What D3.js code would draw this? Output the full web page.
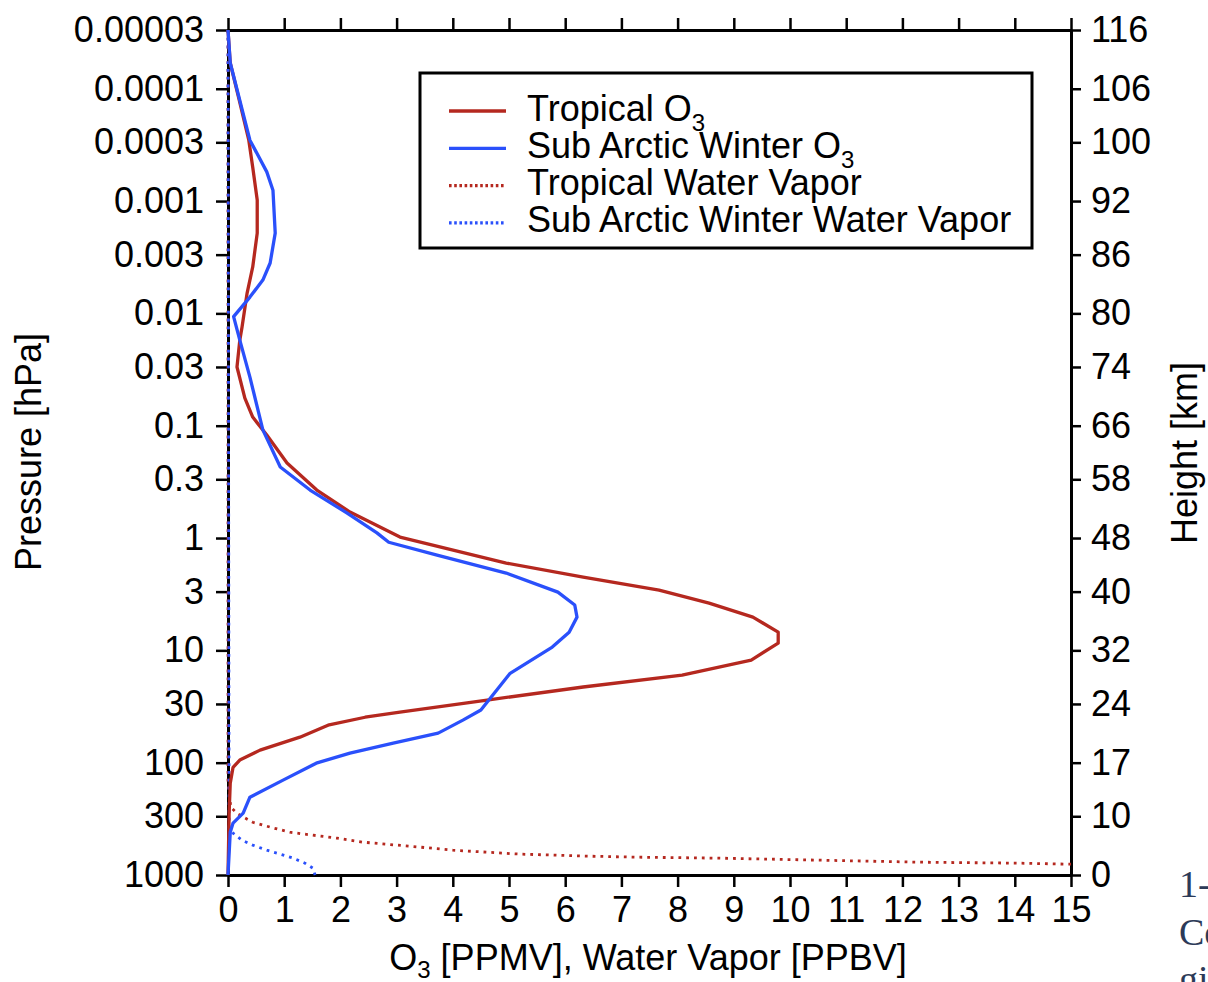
<!DOCTYPE html>
<html>
<head>
<meta charset="utf-8">
<script src="https://cdn.jsdelivr.net/npm/d3@7/dist/d3.min.js"></script>
<style>
  html, body { margin: 0; padding: 0; background: #fff; }
  svg { display: block; }
  text { font-family: "Liberation Sans", Arial, Helvetica, sans-serif; fill: #000; }
</style>
</head>
<body>
<svg id="chart" width="1208" height="982"></svg>
<script>
// Pressure levels (hPa) and mixing ratios for each profile
const tropicalO3Pressure = [3e-5, 5.9e-5, 1.26e-4, 2.87e-4, 5.0e-4, 9.8e-4, 1.93e-3, 3.86e-3, 6.6e-3, 0.0132, 0.0173, 0.030, 0.0568, 0.0838, 0.121, 0.215, 0.374, 0.587, 0.98, 1.67, 2.23, 2.91, 3.80, 5.06, 6.89, 8.63, 12.2, 16.6, 21.2, 27.7, 35.5, 39.4, 46, 59.3, 77.3, 94.8, 110, 152, 281, 1000];
const tropicalO3Value    = [0.0, 0.04, 0.20, 0.37, 0.44, 0.52, 0.52, 0.44, 0.34, 0.25, 0.21, 0.16, 0.30, 0.44, 0.69, 1.05, 1.58, 2.17, 3.06, 4.95, 6.32, 7.67, 8.56, 9.34, 9.79, 9.79, 9.31, 8.08, 6.32, 4.61, 3.06, 2.44, 1.80, 1.28, 0.57, 0.21, 0.09, 0.04, 0.02, 0.0];

const arcticO3Pressure = [3e-5, 5.9e-5, 2.87e-4, 5.5e-4, 8.0e-4, 1.93e-3, 3.56e-3, 5.05e-3, 7.16e-3, 0.0107, 0.0173, 0.0369, 0.109, 0.233, 0.374, 0.60, 0.90, 1.09, 1.42, 2.05, 3.03, 3.95, 5.06, 6.89, 9.35, 16.0, 34.0, 41.8, 54.6, 67.0, 82.2, 101, 143, 203, 281, 345, 416, 1000];
const arcticO3Value    = [0.0, 0.04, 0.39, 0.69, 0.80, 0.84, 0.75, 0.62, 0.39, 0.10, 0.21, 0.39, 0.62, 0.93, 1.46, 2.12, 2.65, 2.86, 3.72, 4.95, 5.87, 6.17, 6.21, 6.07, 5.77, 5.02, 4.50, 4.18, 3.74, 2.94, 2.17, 1.57, 0.98, 0.39, 0.27, 0.09, 0.04, 0.0];

const tropicalH2OPressure = [3e-5, 150, 250, 287, 339, 375, 416, 442, 470, 510, 565, 601, 627, 652, 665, 679, 694, 708, 738, 769, 785, 801, 1000];
const tropicalH2OValue    = [0, 0, 0.05, 0.18, 0.44, 0.75, 1.10, 1.51, 1.94, 2.40, 3.42, 4.00, 4.61, 5.20, 5.78, 6.39, 7.28, 8.75, 10.53, 12.31, 14.09, 14.98, 26];

const arcticH2OPressure = [3e-5, 380, 424, 490, 542, 601, 652, 708, 785, 869, 1000];
const arcticH2OValue    = [0, 0.02, 0.09, 0.25, 0.44, 0.69, 0.93, 1.16, 1.37, 1.51, 1.55];

// Axis ticks
const xTicks = d3.range(0, 16);
const pressureTicks = [0.00003, 0.0001, 0.0003, 0.001, 0.003, 0.01, 0.03, 0.1, 0.3, 1, 3, 10, 30, 100, 300, 1000];
const pressureLabels = ["0.00003", "0.0001", "0.0003", "0.001", "0.003", "0.01", "0.03", "0.1", "0.3", "1", "3", "10", "30", "100", "300", "1000"];
const heightLabels = ["116", "106", "100", "92", "86", "80", "74", "66", "58", "48", "40", "32", "24", "17", "10", "0"];

const seriesNames = ["Tropical O", "Sub Arctic Winter O", "Tropical Water Vapor", "Sub Arctic Winter Water Vapor"];
const seriesSub   = ["3", "3", "", ""];

const RED = "#b5281f";
const BLUE = "#2a50fb";
const FONT = 36;

const svg = d3.select("#chart");
const plotLeft = 228, plotRight = 1071, plotTop = 30, plotBottom = 875;

const x = d3.scaleLinear().domain([0, 15]).range([plotLeft, plotRight]);
const y = d3.scaleLog().domain([0.00003, 1000]).range([plotTop, plotBottom]);

svg.append("rect").attr("width", 1208).attr("height", 982).attr("fill", "#fff");

svg.append("defs").append("clipPath").attr("id", "plotclip")
  .append("rect").attr("x", plotLeft - 3).attr("y", plotTop - 2)
  .attr("width", plotRight - plotLeft + 3).attr("height", plotBottom - plotTop + 4);

function styleAxis(g) {
  g.selectAll(".domain").attr("stroke", "#000").attr("stroke-width", 3);
  g.selectAll(".tick line").attr("stroke", "#000").attr("stroke-width", 2.5);
  g.selectAll(".tick text").style("font-size", FONT + "px")
    .style("font-family", '"Liberation Sans", Arial, Helvetica, sans-serif').attr("fill", "#000");
}

// Bottom axis
const gx = svg.append("g").attr("transform", `translate(0,${plotBottom})`)
  .call(d3.axisBottom(x).tickValues(xTicks).tickFormat(d3.format("d")).tickSize(12).tickSizeOuter(0).tickPadding(9));
styleAxis(gx);

// Top axis (ticks only)
const gxt = svg.append("g").attr("transform", `translate(0,${plotTop})`)
  .call(d3.axisTop(x).tickValues(xTicks).tickFormat("").tickSize(12).tickSizeOuter(0));
styleAxis(gxt);

// Left pressure axis
const gy = svg.append("g").attr("transform", `translate(${plotLeft},0)`)
  .call(d3.axisLeft(y).tickValues(pressureTicks).tickFormat((d, i) => pressureLabels[i]).tickSize(12).tickSizeOuter(0).tickPadding(12));
styleAxis(gy);

// Right height axis
const gyr = svg.append("g").attr("transform", `translate(${plotRight},0)`)
  .call(d3.axisRight(y).tickValues(pressureTicks).tickFormat((d, i) => heightLabels[i]).tickSize(10).tickSizeOuter(0).tickPadding(10));
styleAxis(gyr);

// Profiles
const line = d3.line().x(d => x(d.v)).y(d => y(d.p));
function profile(ps, vs) { return ps.map((p, i) => ({ p: p, v: vs[i] })); }

const plot = svg.append("g").attr("clip-path", "url(#plotclip)");

const series = [
  { data: profile(tropicalH2OPressure, tropicalH2OValue), color: RED, dash: "2.8,5" },
  { data: profile(arcticH2OPressure, arcticH2OValue), color: BLUE, dash: "2.8,5" },
  { data: profile(tropicalO3Pressure, tropicalO3Value), color: RED, dash: null },
  { data: profile(arcticO3Pressure, arcticO3Value), color: BLUE, dash: null }
];

series.forEach(s => {
  plot.append("path").datum(s.data)
    .attr("d", line)
    .attr("fill", "none")
    .attr("stroke", s.color)
    .attr("stroke-width", s.dash ? 2.8 : 3.3)
    .attr("stroke-linejoin", "round")
    .attr("stroke-dasharray", s.dash);
});

// Legend
const legend = svg.append("g");
legend.append("rect").attr("x", 420).attr("y", 73).attr("width", 612).attr("height", 175)
  .attr("fill", "#fff").attr("stroke", "#000").attr("stroke-width", 3);

const legendStyles = [
  { color: RED, dash: null }, { color: BLUE, dash: null },
  { color: RED, dash: "2.6,2.6" }, { color: BLUE, dash: "2.6,2.6" }
];
seriesNames.forEach((name, i) => {
  const ly = 111 + i * 37.3;
  legend.append("line").attr("x1", 449).attr("x2", 506).attr("y1", ly).attr("y2", ly)
    .attr("stroke", legendStyles[i].color).attr("stroke-width", 3.3)
    .attr("stroke-dasharray", legendStyles[i].dash);
  const t = legend.append("text").attr("x", 527).attr("y", ly + 9.5).style("font-size", FONT + "px").text(name);
  if (seriesSub[i]) {
    t.append("tspan").attr("dy", 10).style("font-size", "24px").text(seriesSub[i]);
  }
});

// Axis titles
svg.append("text")
  .attr("transform", "translate(41,452) rotate(-90)")
  .attr("text-anchor", "middle").style("font-size", FONT + "px")
  .text("Pressure [hPa]");

svg.append("text")
  .attr("transform", "translate(1197,453) rotate(-90)")
  .attr("text-anchor", "middle").style("font-size", FONT + "px")
  .text("Height [km]");

const xt = svg.append("text").attr("x", 648).attr("y", 970)
  .attr("text-anchor", "middle").style("font-size", FONT + "px");
xt.append("tspan").text("O");
xt.append("tspan").attr("dy", 8).style("font-size", "24px").text("3");
xt.append("tspan").attr("dy", -8).text(" [PPMV], Water Vapor [PPBV]");

// Page fragment text at the right edge
const side = svg.append("g");
[["1-", 897], ["Co", 945], ["gi", 992]].forEach(([s, yy]) => {
  side.append("text").attr("x", 1179).attr("y", yy)
    .style("font-family", '"Liberation Serif", "Times New Roman", serif')
    .style("font-size", "38px").style("fill", "#2c3a58").text(s);
});
</script>
</body>
</html>
